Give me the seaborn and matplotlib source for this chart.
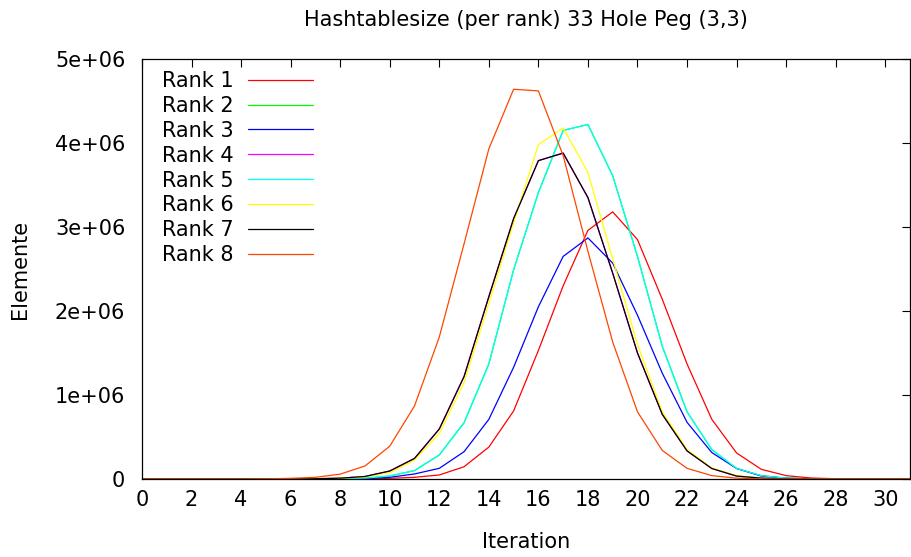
# Hashtable size per rank, 33 hole peg solitaire (3,3)

import numpy as np
import pandas as pd
import matplotlib
matplotlib.use("Agg")
import matplotlib.pyplot as plt
import seaborn as sns

iterations = list(range(32))

# values in millions of elements
rank1 = [0, 0, 0, 0, 0, 0, 0, 0, 0, 0.002, 0.008, 0.02, 0.048, 0.146, 0.38, 0.81,
         1.53, 2.30, 2.96, 3.18, 2.85, 2.14, 1.37, 0.71, 0.31, 0.115, 0.04, 0.012,
         0.003, 0.001, 0, 0]
rank3 = [0, 0, 0, 0, 0, 0, 0, 0, 0, 0.005, 0.02, 0.06, 0.127, 0.325, 0.71, 1.33,
         2.05, 2.65, 2.87, 2.57, 1.95, 1.26, 0.675, 0.315, 0.125, 0.035, 0.01, 0.002,
         0, 0, 0, 0]
rank5 = [0, 0, 0, 0, 0, 0, 0, 0, 0.003, 0.01, 0.036, 0.1, 0.286, 0.67, 1.37, 2.49,
         3.41, 4.15, 4.22, 3.61, 2.65, 1.58, 0.80, 0.35, 0.125, 0.04, 0.01, 0.002,
         0, 0, 0, 0]
rank2 = list(rank5)
rank6 = [0, 0, 0, 0, 0, 0, 0, 0.003, 0.01, 0.025, 0.075, 0.226, 0.54, 1.15, 2.09, 3.05,
         3.98, 4.18, 3.65, 2.62, 1.6, 0.8, 0.35, 0.13, 0.04, 0.01, 0.002, 0,
         0, 0, 0, 0]
rank7 = [0, 0, 0, 0, 0, 0, 0, 0.003, 0.01, 0.03, 0.095, 0.245, 0.595, 1.22, 2.17, 3.1,
         3.79, 3.88, 3.35, 2.45, 1.5, 0.77, 0.335, 0.125, 0.035, 0.01, 0.002, 0,
         0, 0, 0, 0]
rank4 = list(rank7)
rank8 = [0, 0, 0, 0, 0, 0.002, 0.008, 0.02, 0.058, 0.155, 0.39, 0.87, 1.69, 2.8, 3.93, 4.64,
         4.62, 3.85, 2.71, 1.63, 0.8, 0.34, 0.127, 0.04, 0.01, 0.002, 0, 0,
         0, 0, 0, 0]

ranks = [rank1, rank2, rank3, rank4, rank5, rank6, rank7, rank8]
labels = ["Rank %d" % (i + 1) for i in range(8)]
colors = ["#ff0000", "#00ff00", "#0000ff", "#ff00ff", "#00ffff", "#ffff00", "#000000", "#ff4500"]

rows = []
for label, vals in zip(labels, ranks):
    for it, v in zip(iterations, vals):
        rows.append({"Iteration": it, "Elemente": v * 1e6, "rank": label})
df = pd.DataFrame(rows)

sns.set_style("white")
plt.rcParams["font.family"] = ["DejaVu Sans"]
plt.rcParams["font.size"] = 15
plt.rcParams["text.color"] = "black"

fig = plt.figure(figsize=(9.12, 5.57), dpi=100)
ax = fig.add_axes([142 / 912, 1 - 479 / 557, (910 - 142) / 912, (479 - 59) / 557])

sns.lineplot(data=df, x="Iteration", y="Elemente", hue="rank", hue_order=labels,
             palette=colors, linewidth=0.9, ax=ax)

ax.set_xlim(0, 31)
ax.set_ylim(0, 5e6)
ax.set_xticks(range(0, 31, 2))
ax.set_yticks([0, 1e6, 2e6, 3e6, 4e6, 5e6])
ax.set_yticklabels(["0", "1e+06", "2e+06", "3e+06", "4e+06", "5e+06"])
ax.tick_params(direction="in", length=6, width=0.8, top=True, right=True,
               labelsize=15, colors="black")
ax.tick_params(axis="y", pad=12)
ax.tick_params(axis="x", pad=8)
for s in ax.spines.values():
    s.set_color("black")
    s.set_linewidth(0.9)

ax.set_xlabel("Iteration", fontsize=15, labelpad=16, color="black")
ax.set_ylabel("Elemente", fontsize=15, color="black")
ax.yaxis.set_label_coords((30 - 142) / 768, 0.5)
ax.set_title("Hashtablesize (per rank) 33 Hole Peg (3,3)", fontsize=15, pad=24, color="black")

leg = ax.legend(loc="upper left", bbox_to_anchor=(162 / 912, 1 - 71 / 557),
                bbox_transform=fig.transFigure, frameon=False, markerfirst=False,
                handlelength=3.1, handletextpad=0.7, labelspacing=0.235,
                borderpad=0, borderaxespad=0, fontsize=15)
for t in leg.get_texts():
    t.set_color("black")

fig.savefig("out.png", dpi=100)
